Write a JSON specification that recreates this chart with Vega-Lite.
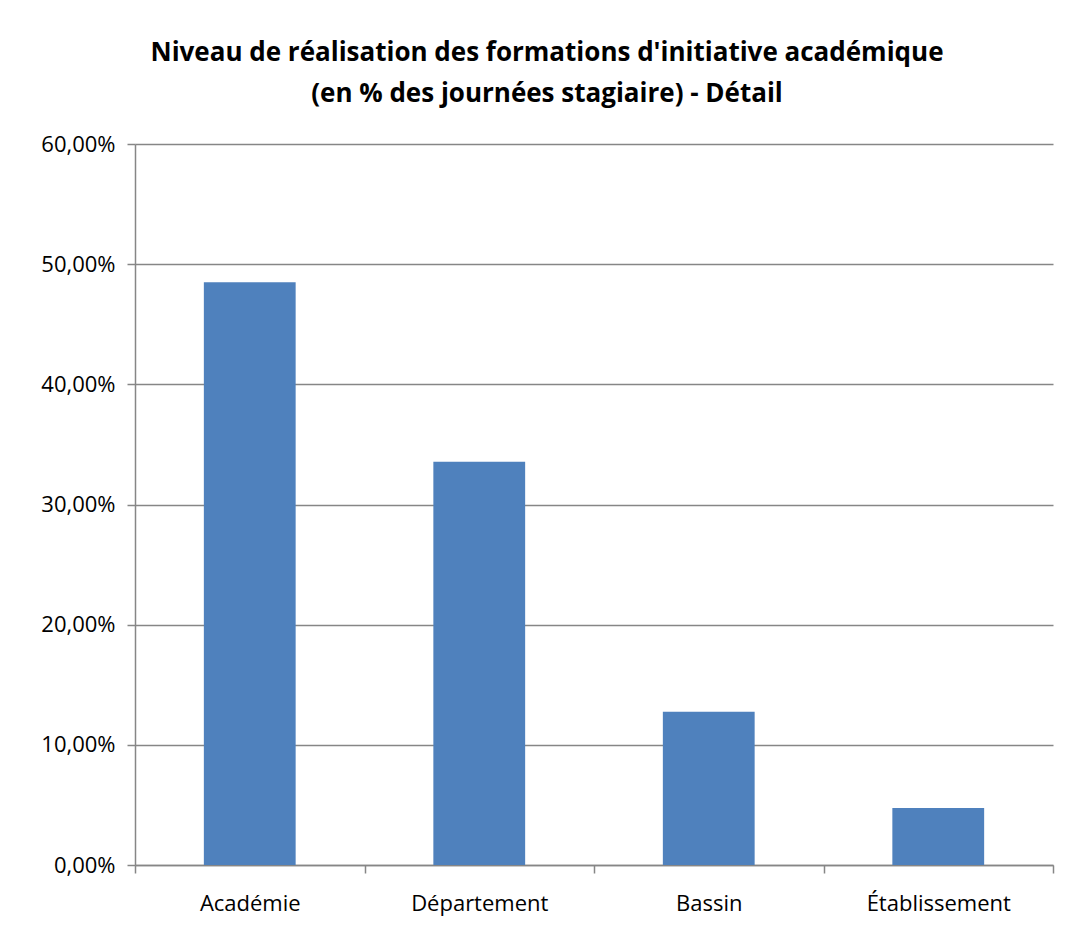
{
  "$schema": "https://vega.github.io/schema/vega-lite/v6.json",
  "autosize": "none",
  "width": 918,
  "height": 721,
  "padding": {"left": 135, "top": 144, "right": 13, "bottom": 63},
  "background": "white",
  "title": {
    "text": ["Niveau de réalisation des formations d'initiative académique", "(en % des journées stagiaire) - Détail"],
    "font": "Open Sans",
    "fontSize": 26,
    "fontWeight": "bold",
    "color": "#000000",
    "lineHeight": 41,
    "anchor": "middle",
    "frame": "group",
    "dx": -47,
    "offset": 26
  },
  "data": {
    "values": [
      {"niveau": "Académie", "taux": 0.485},
      {"niveau": "Département", "taux": 0.3356},
      {"niveau": "Bassin", "taux": 0.1275},
      {"niveau": "Établissement", "taux": 0.0475}
    ]
  },
  "mark": {"type": "bar", "color": "#4F81BD", "width": {"band": 0.4}},
  "encoding": {
    "x": {
      "field": "niveau",
      "type": "nominal",
      "sort": null,
      "title": null,
      "scale": {"paddingInner": 0, "paddingOuter": 0},
      "axis": {
        "tickBand": "extent",
        "grid": false,
        "labelAngle": 0,
        "labelFont": "Open Sans",
        "labelFontSize": 22,
        "labelColor": "#000000",
        "labelPadding": 20,
        "tickSize": 8,
        "tickColor": "#868686",
        "domainColor": "#868686",
        "tickWidth": 1.5,
        "domainWidth": 1.5
      }
    },
    "y": {
      "field": "taux",
      "type": "quantitative",
      "title": null,
      "scale": {"domain": [0, 0.6], "nice": false},
      "axis": {
        "values": [0, 0.1, 0.2, 0.3, 0.4, 0.5, 0.6],
        "labelExpr": "replace(format(datum.value, '.2%'), '.', ',')",
        "labelFont": "Open Sans",
        "labelFontSize": 22,
        "labelColor": "#000000",
        "labelPadding": 12,
        "tickSize": 8,
        "tickColor": "#868686",
        "domainColor": "#868686",
        "gridColor": "#868686",
        "tickWidth": 1.5,
        "domainWidth": 1.5,
        "gridWidth": 1.5
      }
    }
  },
  "config": {"view": {"stroke": null}}
}
